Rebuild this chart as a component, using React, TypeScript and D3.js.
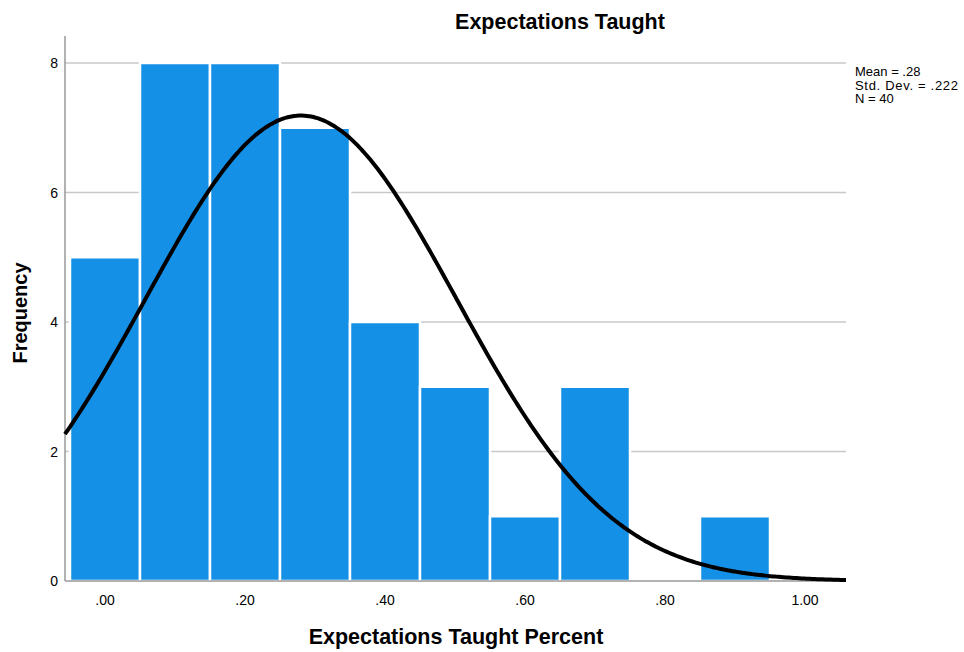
import React from "react";
import * as d3 from "d3";

const binCenters = [0.0, 0.1, 0.2, 0.3, 0.4, 0.5, 0.6, 0.7, 0.8, 0.9];
const frequencies = [5, 8, 8, 7, 4, 3, 1, 3, 0, 1];
const xTicks = [0, 0.2, 0.4, 0.6, 0.8, 1.0];
const yTicks = [0, 2, 4, 6, 8];
const statsLines = ["Mean = .28", "Std. Dev. = .222", "N = 40"];
const mean = 0.28;
const sd = 0.222;
const n = 40;
const binWidth = 0.1;

export default function App() {
  const W = 964, H = 652;
  const left = 65, right = 846, top = 36, bottom = 581;
  const x = d3.scaleLinear().domain([0, 1]).range([105, 805]);
  const xMin = x.invert(left), xMax = x.invert(right);
  const y = d3.scaleLinear().domain([0, 8]).range([bottom, 63]);
  const fmt = (v: number) => (v >= 1 ? v.toFixed(2) : v.toFixed(2).replace(/^0/, ""));

  const curvePts: [number, number][] = d3.range(0, 301).map((i) => {
    const v = xMin + ((xMax - xMin) * i) / 300;
    const dens = Math.exp(-0.5 * ((v - mean) / sd) ** 2) / (sd * Math.sqrt(2 * Math.PI));
    return [v, n * binWidth * dens];
  });
  const line = d3.line<[number, number]>().x((d) => x(d[0])).y((d) => y(d[1])).curve(d3.curveBasis);
  const font = "Arial, 'Liberation Sans', sans-serif";

  return (
    <svg width={W} height={H} style={{ position: "absolute", left: 0, top: 0 }} fontFamily={font}>
      <rect width={W} height={H} fill="#fff" />
      <text x={560} y={29} textAnchor="middle" fontSize={21.5} fontWeight="bold">Expectations Taught</text>
      {yTicks.filter((t) => t > 0).map((t) => (
        <line key={t} x1={left} x2={right} y1={y(t)} y2={y(t)} stroke="#c8c8c8" strokeWidth={1.5} />
      ))}
      {binCenters.map((c, i) =>
        frequencies[i] > 0 ? (
          <rect key={i} x={x(c - binWidth / 2)} y={y(frequencies[i])} width={x(binWidth) - x(0)}
            height={bottom - y(frequencies[i])} fill="#1490e6" stroke="#fff" strokeWidth={2.5} />
        ) : null
      )}
      <line x1={left} x2={right} y1={bottom} y2={bottom} stroke="#999" strokeWidth={1.5} />
      <line x1={left} x2={left} y1={top} y2={bottom} stroke="#999" strokeWidth={1.5} />
      <path d={line(curvePts) || ""} fill="none" stroke="#000" strokeWidth={4} />
      {yTicks.map((t) => (
        <text key={t} x={58} y={y(t) + 5} textAnchor="end" fontSize={14}>{t}</text>
      ))}
      {xTicks.map((t) => (
        <text key={t} x={x(t)} y={605} textAnchor="middle" fontSize={14}>{fmt(t)}</text>
      ))}
      {statsLines.map((s, i) => (
        <text key={i} x={855} y={76 + i * 13.5} fontSize={13} textLength={i === 1 ? 103 : undefined}>{s}</text>
      ))}
      <text x={456} y={644} textAnchor="middle" fontSize={21.5} fontWeight="bold">Expectations Taught Percent</text>
      <text transform={`translate(27,313) rotate(-90)`} textAnchor="middle" fontSize={20} fontWeight="bold">Frequency</text>
    </svg>
  );
}
